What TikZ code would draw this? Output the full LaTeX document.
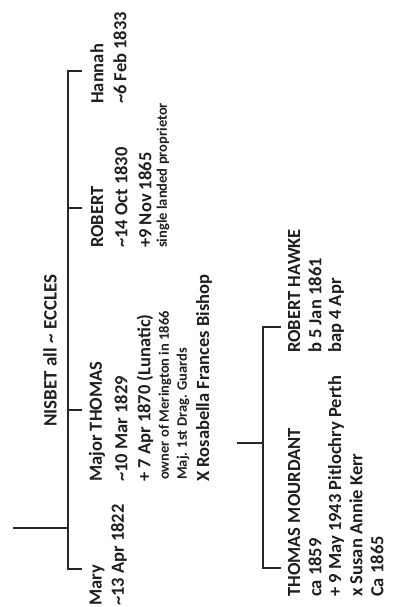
\documentclass[tikz,border=0pt]{standalone}
\usepackage{fontspec}
\setmainfont{Carlito}
\begin{document}
\begin{tikzpicture}[x=1pt,y=-1pt,
  lbl/.style={rotate=90,anchor=west,inner sep=0pt,text=black!88,
    font=\bfseries\fontsize{18.5}{20}\selectfont},
  sml/.style={lbl,font=\bfseries\fontsize{14.5}{16}\selectfont},
  ln/.style={line width=2pt,black!85}]
\useasboundingbox (0,0) rectangle (398,607);
% ---- top family ----
\coordinate (pA) at (13,528);
\coordinate (jA) at (68,528);
\coordinate (vHan) at (68,71);
\coordinate (vMar) at (68,569);
\coordinate (vRob) at (68,208);
\coordinate (vTho) at (68,410);
\coordinate (tHan) at (82,71);
\coordinate (tRob) at (82,208);
\coordinate (tTho) at (82,410);
\coordinate (tMar) at (82,569);
\node[lbl,font=\bfseries\fontsize{19}{20}\selectfont] (fam) at (50,427) {NISBET all \textasciitilde\ ECCLES};

\node[lbl] (mary) at (97,606) {Mary};
\node[lbl] (maryb) at (119,606) {\textasciitilde13 Apr 1822};

\node[lbl] (tho) at (97,482) {Major THOMAS};
\node[lbl] (thob) at (121,482) {\textasciitilde10 Mar 1829};
\node[lbl] (thod) at (145,482) {+ 7 Apr 1870 (Lunatic)};
\node[sml] (thoo) at (165,480) {owner of Merington in 1866};
\node[sml] (thom) at (183,480) {Maj. 1st Drag. Guards};
\node[lbl] (thox) at (204,482) {X Rosabella Frances Bishop};

\node[lbl] (rob) at (97,248) {ROBERT};
\node[lbl] (robb) at (121,248) {\textasciitilde14 Oct 1830};
\node[lbl] (robd) at (145,248) {+9 Nov 1865};
\node[sml] (robs) at (163,248) {single landed proprietor};

\node[lbl] (han) at (97,104) {Hannah};
\node[lbl] (hanb) at (120,104) {\textasciitilde6 Feb 1833};

\draw[ln] (pA) -- (jA);
\draw[ln] (tHan) -- (vHan) -- (vMar) -- (tMar);
\draw[ln] (vRob) -- (tRob);
\draw[ln] (vTho) -- (tTho);

% ---- bottom family ----
\coordinate (pB) at (237,443);
\coordinate (jB) at (263,443);
\coordinate (vHaw) at (263,327);
\coordinate (vMou) at (263,568);
\coordinate (tHaw) at (281,327);
\coordinate (tMou) at (281,568);

\node[lbl] (mou) at (294,597) {THOMAS MOURDANT};
\node[lbl] (moub) at (315,597) {ca 1859};
\node[lbl] (moud) at (336,597) {+ 9 May 1943 Pitlochry Perth};
\node[lbl] (moux) at (356,597) {x Susan Annie Kerr};
\node[lbl] (mouc) at (377,597) {Ca 1865};

\node[lbl] (haw) at (294,353) {ROBERT HAWKE};
\node[lbl] (hawb) at (315,353) {b 5 Jan 1861};
\node[lbl] (hawp) at (336,353) {bap 4 Apr};

\draw[ln] (pB) -- (jB);
\draw[ln] (tHaw) -- (vHaw) -- (vMou) -- (tMou);
\end{tikzpicture}
\end{document}
